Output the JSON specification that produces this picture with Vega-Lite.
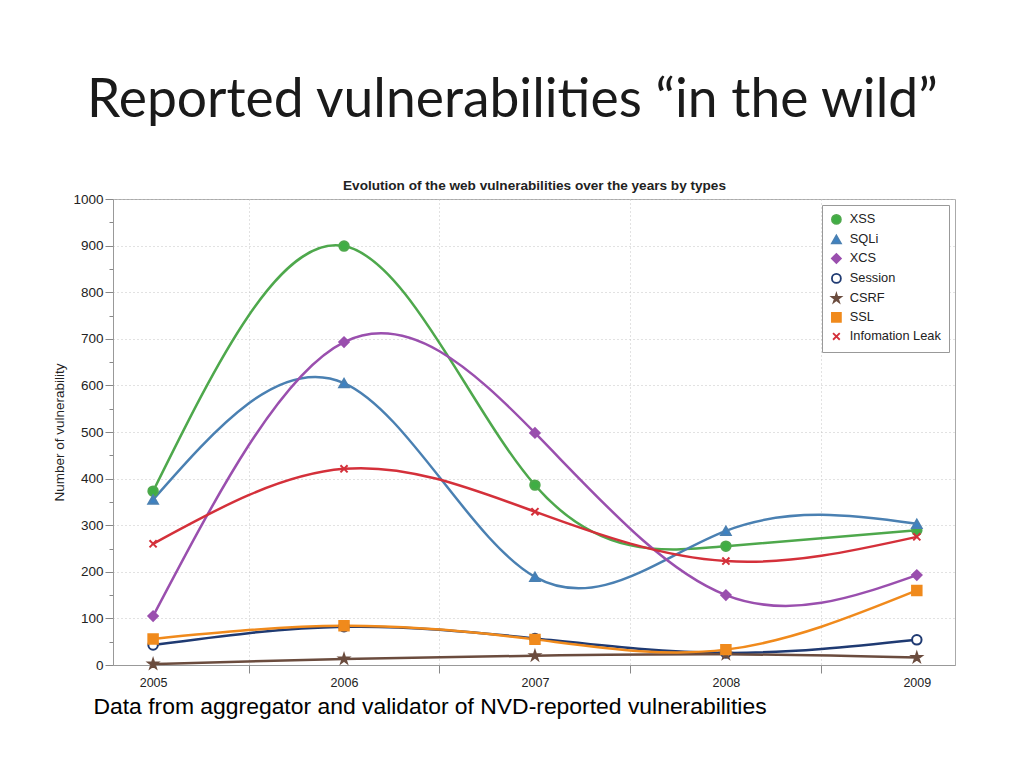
{
  "$schema": "https://vega.github.io/schema/vega-lite/v6.json",
  "autosize": "none",
  "width": 842,
  "height": 466,
  "padding": {"left": 113, "top": 199, "right": 69, "bottom": 103},
  "background": "white",
  "title": {
    "text": "Reported vulnerabilities “in the wild”",
    "anchor": "start",
    "frame": "group",
    "dx": -26,
    "font": "Lato",
    "fontSize": 53.4,
    "fontWeight": "normal",
    "color": "#1a1a1a",
    "offset": 50
  },
  "data": {
    "values": [
      {"year": 2005, "type": "XSS", "value": 373},
      {"year": 2006, "type": "XSS", "value": 899},
      {"year": 2007, "type": "XSS", "value": 386},
      {"year": 2008, "type": "XSS", "value": 255},
      {"year": 2009, "type": "XSS", "value": 289},
      {"year": 2005, "type": "SQLi", "value": 355},
      {"year": 2006, "type": "SQLi", "value": 605},
      {"year": 2007, "type": "SQLi", "value": 189},
      {"year": 2008, "type": "SQLi", "value": 288},
      {"year": 2009, "type": "SQLi", "value": 303},
      {"year": 2005, "type": "XCS", "value": 105},
      {"year": 2006, "type": "XCS", "value": 693},
      {"year": 2007, "type": "XCS", "value": 498},
      {"year": 2008, "type": "XCS", "value": 150},
      {"year": 2009, "type": "XCS", "value": 193},
      {"year": 2005, "type": "Session", "value": 43},
      {"year": 2006, "type": "Session", "value": 82},
      {"year": 2007, "type": "Session", "value": 57},
      {"year": 2008, "type": "Session", "value": 26},
      {"year": 2009, "type": "Session", "value": 54},
      {"year": 2005, "type": "CSRF", "value": 2},
      {"year": 2006, "type": "CSRF", "value": 13},
      {"year": 2007, "type": "CSRF", "value": 20},
      {"year": 2008, "type": "CSRF", "value": 23},
      {"year": 2009, "type": "CSRF", "value": 16},
      {"year": 2005, "type": "SSL", "value": 56},
      {"year": 2006, "type": "SSL", "value": 84},
      {"year": 2007, "type": "SSL", "value": 55},
      {"year": 2008, "type": "SSL", "value": 33},
      {"year": 2009, "type": "SSL", "value": 160},
      {"year": 2005, "type": "Infomation Leak", "value": 260},
      {"year": 2006, "type": "Infomation Leak", "value": 421},
      {"year": 2007, "type": "Infomation Leak", "value": 329},
      {"year": 2008, "type": "Infomation Leak", "value": 223},
      {"year": 2009, "type": "Infomation Leak", "value": 275}
    ]
  },
  "encoding": {
    "y": {
      "field": "value",
      "type": "quantitative",
      "scale": {"domain": [0, 1000], "nice": false},
      "axis": {
        "values": [0, 50, 100, 150, 200, 250, 300, 350, 400, 450, 500, 550, 600, 650, 700, 750, 800, 850, 900, 950, 1000],
        "labelExpr": "datum.value % 100 === 0 ? format(datum.value, 'd') : ''",
        "tickSize": {"condition": {"test": "datum.value % 100 !== 0", "value": 4}, "value": 8},
        "gridOpacity": {"condition": {"test": "datum.value % 100 !== 0", "value": 0}, "value": 1},
        "grid": true,
        "gridDash": [1, 3],
        "gridColor": "#c4c4c4",
        "tickColor": "#888888",
        "domainColor": "#999999",
        "labelFont": "Liberation Sans",
        "labelFontSize": 13.5,
        "labelColor": "#222222",
        "labelPadding": 2,
        "title": "Number of vulnerability",
        "titleFont": "Liberation Sans",
        "titleFontSize": 13.5,
        "titleFontWeight": "normal",
        "titleColor": "#222222",
        "titlePadding": 6
      }
    }
  },
  "resolve": {"axis": {"x": "independent"}},
  "layer": [
    {
      "mark": {"type": "line", "interpolate": "natural", "strokeWidth": 2.5},
      "encoding": {
        "x": {
          "field": "year",
          "type": "quantitative",
          "scale": {"domain": [2004.79, 2009.2], "nice": false, "zero": false},
          "axis": {
            "orient": "bottom",
            "values": [2005, 2005.5, 2006, 2006.5, 2007, 2007.5, 2008, 2008.5, 2009],
            "labelExpr": "datum.value % 1 === 0 ? format(datum.value, 'd') : ''",
            "tickOpacity": {"condition": {"test": "datum.value % 1 === 0", "value": 0}, "value": 1},
            "gridOpacity": {"condition": {"test": "datum.value % 1 === 0", "value": 0}, "value": 1},
            "grid": true,
            "gridDash": [1, 3],
            "gridColor": "#c4c4c4",
            "tickSize": 8,
            "tickColor": "#888888",
            "domainColor": "#999999",
            "labelFont": "Liberation Sans",
            "labelFontSize": 12.5,
            "labelColor": "#222222",
            "labelPadding": 3,
            "title": "Data from aggregator and validator of  NVD-reported vulnerabilities",
            "titleFont": "Liberation Sans",
            "titleFontSize": 22.9,
            "titleFontWeight": "normal",
            "titleColor": "#000000",
            "titleAnchor": "start",
            "titleAlign": "left",
            "titleBaseline": "top",
            "titleX": -20,
            "titleY": 30
          }
        },
        "stroke": {
          "field": "type",
          "type": "nominal",
          "scale": {
            "domain": ["XSS", "SQLi", "XCS", "Session", "CSRF", "SSL", "Infomation Leak"],
            "range": ["#4ea84c", "#4a80b2", "#9a4fae", "#1f3a72", "#6b4c3e", "#f08a1c", "#d4303a"]
          },
          "legend": {
            "title": null,
            "orient": "top-right",
            "offset": 6,
            "fillColor": "white",
            "strokeColor": "#999999",
            "padding": 8,
            "rowPadding": 3,
            "symbolSize": 80,
            "symbolStrokeWidth": 1.8,
            "labelFont": "Liberation Sans",
            "labelFontSize": 12.8,
            "labelColor": "#222222",
            "labelOffset": 7
          }
        }
      }
    },
    {
      "mark": {"type": "point", "filled": true, "size": 90, "strokeWidth": 2, "opacity": 1},
      "encoding": {
        "x": {
          "field": "year",
          "type": "quantitative",
          "axis": {
            "orient": "top",
            "labels": false,
            "ticks": false,
            "domain": false,
            "grid": false,
            "title": "Evolution of the web vulnerabilities over the years by types",
            "titleFont": "Liberation Sans",
            "titleFontSize": 13.6,
            "titleFontWeight": "bold",
            "titleColor": "#222222",
            "titlePadding": 7
          }
        },
        "fill": {
          "field": "type",
          "type": "nominal",
          "scale": {
            "domain": ["XSS", "SQLi", "XCS", "Session", "CSRF", "SSL", "Infomation Leak"],
            "range": ["#3fae44", "#3c82c4", "#9a4fae", "#ffffff", "#6b4c3e", "#f08a1c", "#d4303a"]
          },
          "legend": {
            "title": null,
            "orient": "top-right",
            "offset": 6,
            "fillColor": "white",
            "strokeColor": "#999999",
            "padding": 8,
            "rowPadding": 3,
            "symbolSize": 80,
            "symbolStrokeWidth": 1.8,
            "labelFont": "Liberation Sans",
            "labelFontSize": 12.8,
            "labelColor": "#222222",
            "labelOffset": 7
          }
        },
        "stroke": {"field": "type", "type": "nominal"},
        "shape": {
          "field": "type",
          "type": "nominal",
          "scale": {
            "domain": ["XSS", "SQLi", "XCS", "Session", "CSRF", "SSL", "Infomation Leak"],
            "range": [
              "circle",
              "triangle-up",
              "diamond",
              "circle",
              "M0,-1L0.2245,-0.309L0.951,-0.309L0.363,0.118L0.588,0.809L0,0.382L-0.588,0.809L-0.363,0.118L-0.951,-0.309L-0.2245,-0.309Z",
              "square",
              "M-0.75,-0.75L0.75,0.75M-0.75,0.75L0.75,-0.75"
            ]
          },
          "legend": {
            "title": null,
            "orient": "top-right",
            "offset": 6,
            "fillColor": "white",
            "strokeColor": "#999999",
            "padding": 8,
            "rowPadding": 3,
            "symbolSize": 80,
            "symbolStrokeWidth": 1.8,
            "labelFont": "Liberation Sans",
            "labelFontSize": 12.8,
            "labelColor": "#222222",
            "labelOffset": 7
          }
        }
      }
    }
  ],
  "config": {
    "view": {"stroke": "#aaaaaa", "strokeWidth": 1}
  }
}
